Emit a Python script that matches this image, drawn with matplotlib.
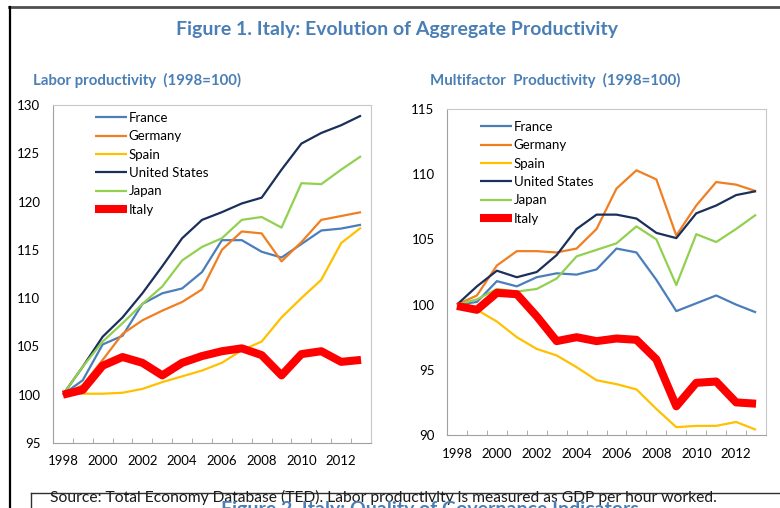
import matplotlib
matplotlib.use("Agg")
import matplotlib.pyplot as plt
from matplotlib.lines import Line2D
import numpy as np

plt.rcParams['font.family'] = ['Lato', 'DejaVu Sans']

# data (1998=100)
years = list(range(1998, 2014))
countries = ['France', 'Germany', 'Spain', 'United States', 'Japan', 'Italy']

labor_france = [100, 101.5, 105.2, 106.1, 109.4, 110.5, 111.0, 112.7, 116.0, 116.0, 114.8, 114.2, 115.6, 117.0, 117.2, 117.6]
labor_germany = [100, 101.0, 103.6, 106.3, 107.7, 108.7, 109.6, 110.9, 115.0, 116.9, 116.7, 113.8, 115.8, 118.1, 118.5, 118.9]
labor_spain = [100.1, 100.1, 100.1, 100.2, 100.6, 101.3, 101.9, 102.5, 103.3, 104.6, 105.5, 108.0, 110.0, 111.9, 115.7, 117.3]
labor_us = [100, 102.9, 106.0, 108.0, 110.5, 113.3, 116.2, 118.1, 118.9, 119.8, 120.4, 123.3, 126.0, 127.1, 127.9, 128.9]
labor_japan = [100, 102.9, 105.5, 107.4, 109.4, 111.2, 113.9, 115.3, 116.2, 118.1, 118.4, 117.3, 121.9, 121.8, 123.3, 124.7]
labor_italy = [100.0, 100.5, 103.0, 103.9, 103.3, 102.0, 103.3, 104.0, 104.5, 104.8, 104.1, 102.0, 104.2, 104.5, 103.4, 103.6]

mfp_france = [100.0, 100.2, 101.8, 101.4, 102.1, 102.4, 102.3, 102.7, 104.3, 104.0, 101.9, 99.5, 100.1, 100.7, 100.0, 99.4]
mfp_germany = [100, 100.7, 103.0, 104.1, 104.1, 104.0, 104.3, 105.8, 108.9, 110.3, 109.6, 105.3, 107.6, 109.4, 109.2, 108.7]
mfp_spain = [100, 99.6, 98.7, 97.5, 96.6, 96.1, 95.2, 94.2, 93.9, 93.5, 92.0, 90.6, 90.7, 90.7, 91.0, 90.4]
mfp_us = [100, 101.4, 102.6, 102.1, 102.5, 103.8, 105.8, 106.9, 106.9, 106.6, 105.5, 105.1, 107.0, 107.6, 108.4, 108.7]
mfp_japan = [100, 100.4, 101.2, 101.0, 101.2, 102.0, 103.7, 104.2, 104.7, 106.0, 105.0, 101.5, 105.4, 104.8, 105.8, 106.9]
mfp_italy = [99.9, 99.6, 100.9, 100.8, 99.1, 97.2, 97.5, 97.2, 97.4, 97.3, 95.8, 92.2, 94.0, 94.1, 92.5, 92.4]

colors = ['#4a7ebb', '#f07f22', '#ffc000', '#1a2f5a', '#92d050', '#ff0000']
widths = [1.6, 1.6, 1.6, 1.6, 1.6, 5.8]
blue = '#4a7fb5'

fig = plt.figure(figsize=(7.8, 5.08), dpi=100)


def draw_panel(ax, series, ylo, yhi, leg_xy):
    for s, name, c, w in zip(series, countries, colors, widths):
        ax.plot(years, s, color=c, lw=w, label=name, solid_capstyle='butt')
    ax.set_xlim(1997.5, 2013.5)
    ax.set_ylim(ylo, yhi)
    ax.set_yticks(np.arange(ylo, yhi + 1, 5))
    ax.set_xticks(range(1998, 2013, 2))
    ax.set_xticks(np.arange(1997.5, 2014, 1), minor=True)
    ax.tick_params(axis='x', which='major', length=0, pad=9, labelsize=9.5)
    ax.tick_params(axis='x', which='minor', direction='in', length=3.6, color='#a0a0a0')
    ax.tick_params(axis='y', length=0, pad=9, labelsize=9.5)
    for side in ['left', 'bottom']:
        ax.spines[side].set_color('#a0a0a0')
    for side in ['top', 'right']:
        ax.spines[side].set_color('#c8c8c8')
    ax.legend(loc='upper left', bbox_to_anchor=leg_xy, frameon=False, fontsize=9.5,
              handlelength=2.4, handletextpad=0.15, labelspacing=0.48,
              borderaxespad=0, borderpad=0)


ax1 = fig.add_axes([0.0679, 0.128, 0.4077, 0.6654])
draw_panel(ax1, [labor_france, labor_germany, labor_spain, labor_us, labor_japan, labor_italy],
           95, 130, (0.132, 0.979))
ax2 = fig.add_axes([0.5731, 0.1437, 0.409, 0.6417])
draw_panel(ax2, [mfp_france, mfp_germany, mfp_spain, mfp_us, mfp_japan, mfp_italy],
           90, 115, (0.103, 0.963))

# titles
fig.text(397 / 780, 1 - 30 / 508, 'Figure 1. Italy: Evolution of Aggregate Productivity',
         ha='center', va='center', fontsize=14, fontweight='bold', color=blue)
fig.text(33 / 780, 1 - 80 / 508, 'Labor productivity  (1998=100)',
         ha='left', va='center', fontsize=10.8, fontweight='bold', color=blue)
fig.text(430 / 780, 1 - 80 / 508, 'Multifactor  Productivity  (1998=100)',
         ha='left', va='center', fontsize=10.8, fontweight='bold', color=blue)

# page frame lines
fig.add_artist(Line2D([9 / 780, 1], [1 - 7 / 508] * 2, transform=fig.transFigure, color='#505050', lw=2))
fig.add_artist(Line2D([10 / 780] * 2, [0, 1 - 7 / 508], transform=fig.transFigure, color='black', lw=1.6))
fig.add_artist(Line2D([31 / 780, 1], [1 - 493 / 508] * 2, transform=fig.transFigure, color='#303030', lw=1))
fig.add_artist(Line2D([31 / 780] * 2, [0, 1 - 493 / 508], transform=fig.transFigure, color='#303030', lw=1))

fig.text(50 / 780, 1 - 497 / 508,
         'Source: Total Economy Database (TED). Labor productivity is measured as GDP per hour worked.',
         ha='left', va='center', fontsize=11.25, color='#1a1a1a')
# next figure's title, cut by the page edge as in the original
fig.text(430 / 780, 1 - 515 / 508, 'Figure 2. Italy: Quality of Governance Indicators',
         ha='center', va='baseline', fontsize=14, fontweight='bold', color=blue)

fig.savefig('out.png', dpi=100)
